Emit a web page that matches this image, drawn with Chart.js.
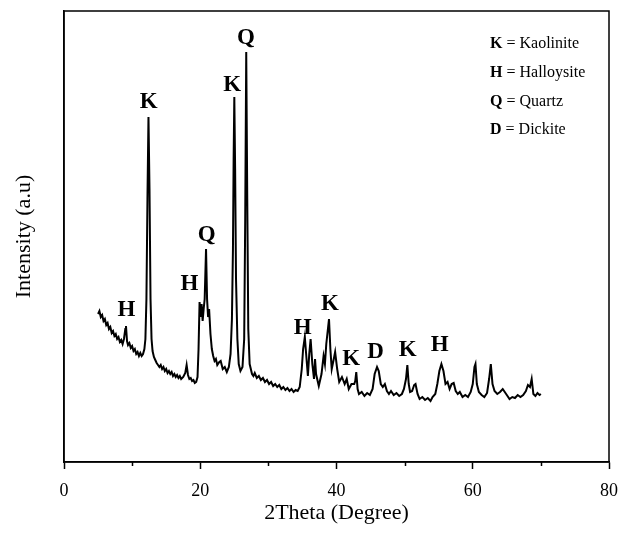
<!DOCTYPE html>
<html>
<head>
<meta charset="utf-8">
<script src="https://cdn.jsdelivr.net/npm/chart.js@4"></script>
<style>
  html, body { margin: 0; padding: 0; background: #fff; }
  #wrap { width: 620px; height: 533px; }
</style>
</head>
<body>
<div id="wrap"><canvas id="chart" width="620" height="533"></canvas></div>
<script>
// XRD pattern (2theta in degrees, intensity in arbitrary units)
const twoTheta = [
  5.0, 5.2, 5.4, 5.6, 5.8, 6.0, 6.2, 6.4, 6.6, 6.8, 7.0, 7.2, 7.4, 7.6, 7.8, 8.0, 8.2, 8.4, 8.6, 8.8,
  9.0, 9.1, 9.25, 9.4, 9.6, 9.8, 10.0, 10.2, 10.4, 10.6, 10.8, 11.0, 11.2, 11.4, 11.6, 11.8, 11.95,
  12.1, 12.25, 12.4, 12.55, 12.7, 12.85, 13.0, 13.2, 13.4, 13.6, 13.8, 14.0, 14.2, 14.4, 14.6, 14.8,
  15.0, 15.2, 15.4, 15.6, 15.8, 16.0, 16.2, 16.4, 16.6, 16.8, 17.0, 17.2, 17.5, 17.8, 18.0, 18.2,
  18.4, 18.6, 18.8, 19.0, 19.2, 19.4, 19.6, 19.75, 19.9, 20.05, 20.2, 20.35, 20.5, 20.65, 20.85,
  21.0, 21.15, 21.3, 21.5, 21.7, 21.9, 22.1, 22.3, 22.5, 22.8, 23.0, 23.3, 23.6, 23.9, 24.2, 24.45,
  24.65, 24.8, 24.9, 25.0, 25.12, 25.25, 25.45, 25.65, 25.9, 26.2, 26.45, 26.6, 26.75, 26.9, 27.05,
  27.25, 27.6, 27.8, 28.0, 28.3, 28.6, 28.9, 29.2, 29.5, 29.8, 30.1, 30.4, 30.7, 31.0, 31.3, 31.6,
  31.9, 32.2, 32.5, 32.8, 33.1, 33.4, 33.7, 34.0, 34.3, 34.6, 34.9, 35.1, 35.35, 35.6, 35.8, 36.0,
  36.2, 36.45, 36.7, 36.85, 37.0, 37.4, 37.8, 38.1, 38.3, 38.5, 38.9, 39.1, 39.3, 39.6, 39.8, 40.1,
  40.4, 40.8, 41.2, 41.5, 41.8, 42.2, 42.6, 42.75, 42.9, 43.1, 43.3, 43.7, 44.1, 44.5, 44.9, 45.3,
  45.6, 45.95, 46.2, 46.5, 46.8, 47.1, 47.4, 47.7, 48.0, 48.4, 48.8, 49.2, 49.6, 49.9, 50.2, 50.4,
  50.6, 50.8, 51.1, 51.4, 51.6, 51.9, 52.2, 52.6, 53.0, 53.4, 53.8, 54.1, 54.5, 54.8, 55.1, 55.4,
  55.7, 56.0, 56.3, 56.6, 56.9, 57.2, 57.5, 57.8, 58.1, 58.5, 58.9, 59.3, 59.7, 60.0, 60.25, 60.4,
  60.6, 60.9, 61.3, 61.7, 62.1, 62.4, 62.65, 62.9, 63.2, 63.6, 64.0, 64.4, 64.7, 65.0, 65.4, 65.8,
  66.2, 66.6, 67.0, 67.4, 67.8, 68.1, 68.4, 68.65, 68.9, 69.2, 69.5, 69.8, 70.0
];
const intensity = [
  148, 151, 145, 147, 141, 143, 137, 139, 133, 135, 129, 131, 126, 128, 123, 125, 120, 122, 118, 123,
  133, 136, 121, 117, 119, 114, 116, 111, 113, 108, 110, 106, 109, 106, 108, 113, 123,
  163, 263, 345, 273, 163, 123, 111, 105, 102, 99, 97, 95, 97, 93, 95, 91,
  93, 89, 91, 88, 90, 86, 88, 85, 87, 84, 86, 83, 85, 89, 97, 87,
  83, 84, 81, 82, 79, 80, 85, 113, 160, 145, 158, 141, 153, 163, 213,
  163, 145, 153, 128, 113, 106, 101, 103, 97, 100, 101, 93, 95, 90, 95, 108,
  143, 213, 303, 365, 293, 183, 123, 98, 91, 95, 123, 243, 410, 263, 133,
  98, 88, 86, 89, 84, 86, 82, 84, 80, 82, 78, 80, 76, 78, 75, 77,
  73, 75, 72, 74, 71, 73, 70, 72, 71, 75, 93, 113, 125, 103, 86, 108,
  123, 98, 83, 103, 88, 76, 88, 106, 98, 118, 143, 113, 93, 103, 110, 93,
  80, 85, 78, 83, 73, 78, 78, 81, 90, 73, 68, 70, 66, 69, 67, 73,
  88, 95, 91, 78, 75, 78, 71, 68, 71, 67, 69, 66, 68, 73, 83, 97,
  78, 70, 71, 77, 78, 68, 63, 65, 62, 64, 61, 65, 68, 78, 91, 98,
  91, 78, 80, 73, 78, 79, 71, 68, 70, 65, 67, 65, 70, 78, 95, 98,
  78, 70, 67, 65, 69, 83, 98, 78, 71, 68, 70, 73, 70, 67, 63, 65,
  64, 67, 65, 67, 71, 77, 75, 83, 68, 66, 69, 67, 68
];

// phase markers placed above the peaks
const peakLetters = ['H', 'K', 'H', 'Q', 'K', 'Q', 'H', 'K', 'K', 'D', 'K', 'H'];
const peakX = [9.15, 12.45, 18.4, 20.95, 24.7, 26.7, 35.05, 39.05, 42.15, 45.75, 50.45, 55.15];
const peakY = [152, 360, 178, 227, 377, 424, 134, 158, 103, 110, 112, 117];

const legendKeys = ['K', 'H', 'Q', 'D'];
const legendNames = ['Kaolinite', 'Halloysite', 'Quartz', 'Dickite'];

const xTicks = [0, 10, 20, 30, 40, 50, 60, 70, 80];

const serif = '"Liberation Serif", "DejaVu Serif", serif';

const decor = {
  id: 'decor',
  afterDraw(chart) {
    const c = chart.ctx, a = chart.chartArea;
    const sx = chart.scales.x, sy = chart.scales.y;
    c.save();
    // frame
    c.strokeStyle = '#000';
    c.lineWidth = 1.5;
    c.strokeRect(a.left, a.top, a.right - a.left, a.bottom - a.top);
    // minor ticks (odd tens)
    xTicks.forEach((v, i) => {
      if (i % 2 === 1) {
        const px = Math.round(sx.getPixelForValue(v)) + 0.5;
        c.beginPath();
        c.moveTo(px, a.bottom);
        c.lineTo(px, a.bottom + 4);
        c.stroke();
      }
    });
    // peak letters
    c.fillStyle = '#000';
    c.font = 'bold 23px ' + serif;
    c.textAlign = 'center';
    c.textBaseline = 'middle';
    peakLetters.forEach((t, i) => {
      c.fillText(t, sx.getPixelForValue(peakX[i]), sy.getPixelForValue(peakY[i]));
    });
    // key
    c.textAlign = 'left';
    const keyY = [44, 73, 102, 130];
    legendKeys.forEach((k, i) => {
      c.font = 'bold 16px ' + serif;
      c.fillText(k, 490, keyY[i]);
      const w = c.measureText(k).width;
      c.font = '16px ' + serif;
      c.fillText(' = ' + legendNames[i], 490 + w, keyY[i]);
    });
    c.restore();
  }
};

new Chart(document.getElementById('chart'), {
  type: 'line',
  data: {
    datasets: [{
      data: twoTheta.map((t, i) => ({ x: t, y: intensity[i] })),
      borderColor: '#000',
      borderWidth: 2,
      pointRadius: 0,
      tension: 0,
      fill: false
    }]
  },
  options: {
    responsive: false,
    animation: false,
    layout: { padding: { top: 11, right: 11, left: 0, bottom: 0 } },
    plugins: { legend: { display: false }, tooltip: { enabled: false } },
    scales: {
      x: {
        type: 'linear',
        min: 0,
        max: 80,
        afterBuildTicks(scale) { scale.ticks = xTicks.map(v => ({ value: v })); },
        afterFit(scale) {
          scale.height = 71;
          scale.paddingLeft = 0;
          scale.paddingRight = 0;
        },
        border: { color: '#000', width: 1.5 },
        grid: {
          drawOnChartArea: false,
          tickLength: 7,
          tickWidth: 1.5,
          tickColor: ctx => (ctx.tick && ctx.tick.value % 20 !== 0) ? 'rgba(0,0,0,0)' : '#000'
        },
        ticks: {
          color: '#000',
          padding: 11,
          maxRotation: 0,
          autoSkip: false,
          font: { family: serif, size: 18 },
          callback: v => (v % 20 === 0 ? String(v) : '')
        },
        title: {
          display: true,
          text: '2Theta (Degree)',
          color: '#000',
          font: { family: serif, size: 22 },
          padding: { top: 4, bottom: 7 }
        }
      },
      y: {
        min: 0,
        max: 451,
        afterFit(scale) { scale.width = 64; },
        border: { color: '#000', width: 1.5 },
        grid: { display: false },
        ticks: { display: false },
        title: {
          display: true,
          text: 'Intensity (a.u)',
          color: '#000',
          font: { family: serif, size: 22 },
          padding: { top: 11, bottom: 0 }
        }
      }
    }
  },
  plugins: [decor]
});
</script>
</body>
</html>
